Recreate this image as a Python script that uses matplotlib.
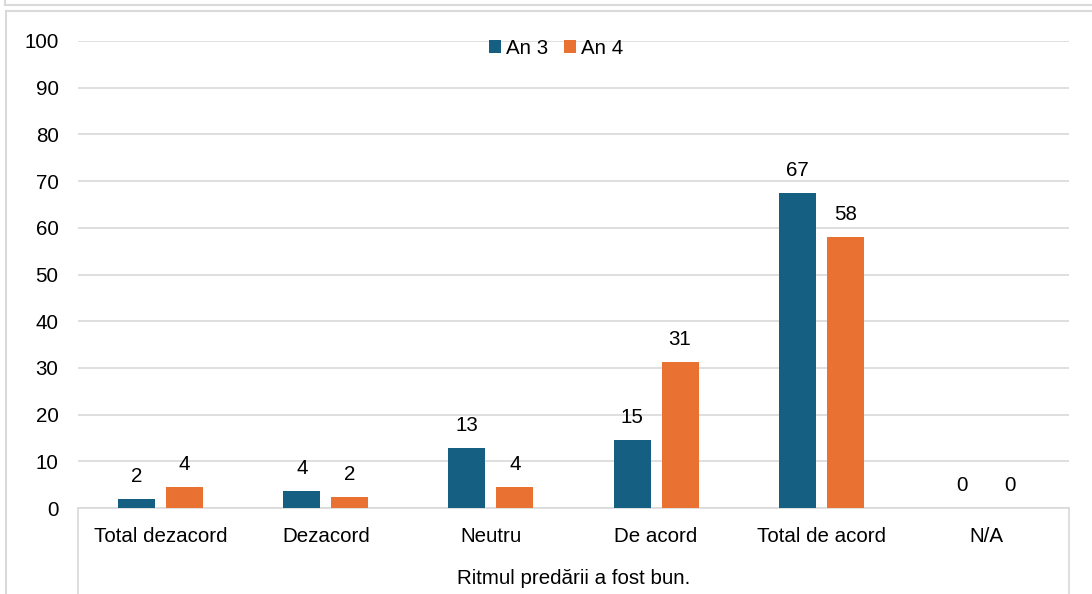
import matplotlib.pyplot as plt
import numpy as np
from matplotlib.patches import Rectangle
from matplotlib.lines import Line2D

categories = ['Total dezacord', 'Dezacord', 'Neutru', 'De acord', 'Total de acord', 'N/A']
an3 = [1.9, 3.6, 12.8, 14.6, 67.4, 0]
an4 = [4.5, 2.3, 4.5, 31.3, 58.0, 0]
series_names = ['An 3', 'An 4']
group_label = 'Ritmul predării a fost bun.'
yticks = [0, 10, 20, 30, 40, 50, 60, 70, 80, 90, 100]

blue = '#156082'
orange = '#E97132'
grid_col = '#d9d9d9'

plt.rcParams['font.family'] = ['Liberation Sans', 'DejaVu Sans']
fs = 14.8

W, H = 1092, 594
fig = plt.figure(figsize=(W / 100, H / 100), dpi=100)

# outer frames (chart area borders)
fig.add_artist(Line2D([5 / W, 1], [1 - 5 / H, 1 - 5 / H], color=grid_col, lw=1.5))
fig.add_artist(Line2D([5 / W, 5 / W], [1, 1 - 5 / H], color=grid_col, lw=1.5))
fig.add_artist(Rectangle((6 / W, -0.1), 1.2, 1 - 11 / H + 0.1, fill=False,
                         edgecolor=grid_col, lw=1.5))

x0, x1, ytop, ybot = 78, 1069, 41, 508
ax = fig.add_axes([x0 / W, 1 - ybot / H, (x1 - x0) / W, (ybot - ytop) / H])

x = np.arange(len(categories))
w = 0.224
gap = 0.066
b1 = ax.bar(x - (w + gap) / 2, an3, w, color=blue, label=series_names[0], zorder=3)
b2 = ax.bar(x + (w + gap) / 2, an4, w, color=orange, label=series_names[1], zorder=3)

for bars, vals in [(b1, an3), (b2, an4)]:
    for rect, v in zip(bars, vals):
        ax.annotate(f'{round(v):d}', (rect.get_x() + rect.get_width() / 2, v),
                    xytext=(0, 13), textcoords='offset pixels',
                    ha='center', va='bottom', fontsize=fs, color='#000000')

ax.set_xlim(-0.5, len(categories) - 0.5)
ax.set_ylim(0, 100)
ax.set_yticks(yticks)
ax.set_xticks(x)
ax.set_xticklabels(categories, fontsize=fs)
ax.tick_params(axis='y', length=0, pad=14, labelsize=fs)
ax.tick_params(axis='x', length=0, pad=14)
ax.grid(axis='y', color=grid_col, lw=1.2, zorder=0)
for s in ['top', 'right', 'left']:
    ax.spines[s].set_visible(False)
ax.spines['bottom'].set_color(grid_col)
ax.spines['bottom'].set_linewidth(1.2)

# multi-level axis borders
for xp in [x0, x1]:
    fig.add_artist(Line2D([xp / W, xp / W], [0, 1 - ybot / H], color=grid_col, lw=1.2))
fig.text((x0 + x1) / 2 / W, 1 - 578 / H, group_label, ha='center', va='center', fontsize=fs)

ax.legend(loc='center', bbox_to_anchor=((556 - x0) / (x1 - x0), (ybot - 48) / (ybot - ytop)),
          ncol=2, frameon=False, fontsize=fs, handlelength=0.6, handleheight=0.6,
          handletextpad=0.2, columnspacing=0.8, borderaxespad=0, borderpad=0)

fig.savefig('out.png', dpi=100)
